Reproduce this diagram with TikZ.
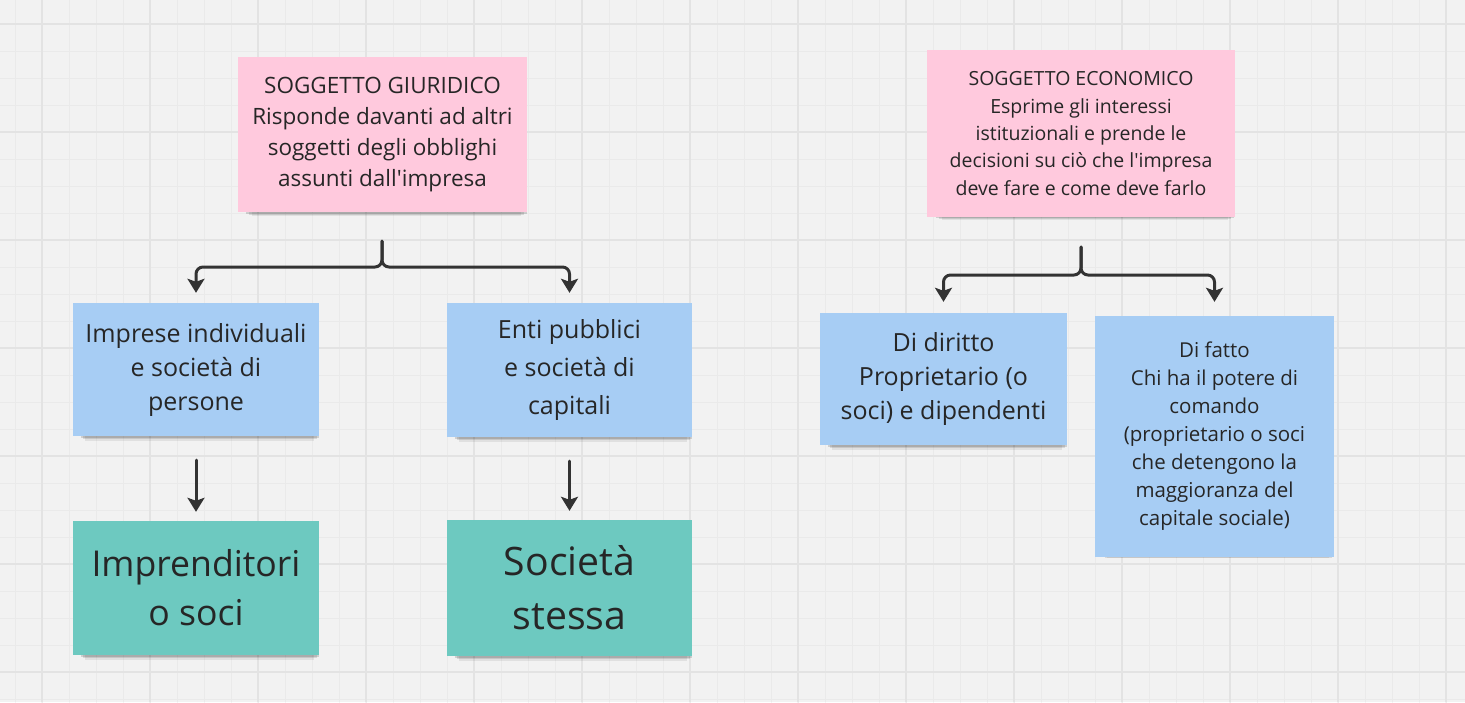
\documentclass[tikz,border=0pt]{standalone}
\usepackage{fontspec}
\setmainfont{Open Sans}
\usetikzlibrary{shadows,arrows.meta}
\definecolor{boardbg}{HTML}{F2F2F2}
\definecolor{gridminor}{HTML}{EAEAEA}
\definecolor{gridmajor}{HTML}{E3E3E3}
\definecolor{notepink}{HTML}{FFC9DD}
\definecolor{noteblue}{HTML}{A7CDF4}
\definecolor{noteteal}{HTML}{6DC9C0}
\definecolor{inkgray}{HTML}{333333}
\definecolor{txtgray}{HTML}{262626}
\begin{document}
\begin{tikzpicture}[x=1pt,y=-1pt,line join=round,line cap=round,>={Stealth[length=14pt,width=17pt,inset=3pt]}]
			\tikzset{note/.style={rectangle,inner sep=0pt,align=center,text=txtgray,
					drop shadow={shadow xshift=4pt,shadow yshift=-4pt,shadow scale=0.97,opacity=0.14,fill=black},
					drop shadow={shadow xshift=4pt,shadow yshift=-7pt,shadow scale=0.95,opacity=0.11,fill=black},
					drop shadow={shadow xshift=4pt,shadow yshift=-10pt,shadow scale=0.93,opacity=0.07,fill=black}},
				link/.style={->,line width=3pt,draw=inkgray}}
			\fill[boardbg] (0,0) rectangle (1465,702);
			\useasboundingbox (0,0) rectangle (1465,702);
			% griglia della lavagna
			\foreach \gx in {15,42,...,1465} \draw[gridminor,line width=1pt] (\gx,0) -- (\gx,702);
			\foreach \gy in {-3,24,...,702} \draw[gridminor,line width=1pt] (0,\gy) -- (1465,\gy);
			\foreach \gx in {42,150,...,1465} \draw[gridmajor,line width=1.2pt] (\gx,0) -- (\gx,702);
			\foreach \gy in {24,132,...,702} \draw[gridmajor,line width=1.2pt] (0,\gy) -- (1465,\gy);
			% soggetto giuridico
			\node[note,fill=notepink,minimum width=289pt,minimum height=155pt,font=\fontsize{22.5}{31}\selectfont] (giur) at (382.5,134.5)
				{SOGGETTO GIURIDICO\\Risponde davanti ad altri\\soggetti degli obblighi\\assunti dall\textquotesingle impresa};
			\node[note,fill=noteblue,minimum width=246pt,minimum height=133pt,font=\fontsize{25}{34}\selectfont] (imprese) at (196,369.5)
				{Imprese individuali\\e società di\\persone};
			\node[note,fill=noteblue,minimum width=245pt,minimum height=134pt,font=\fontsize{25}{38}\selectfont] (enti) at (569.5,370)
				{Enti pubblici\\e società di\\capitali};
			\node[note,fill=noteteal,minimum width=246pt,minimum height=134pt,font=\fontsize{35.6}{49}\selectfont] (impr) at (196,588)
				{Imprenditori\\o soci};
			\node[note,fill=noteteal,minimum width=245pt,minimum height=136pt,font=\fontsize{39.2}{54}\selectfont] (soc) at (569.5,588)
				{Società\\stessa};
			% soggetto economico
			\node[note,fill=notepink,minimum width=308pt,minimum height=167pt,font=\fontsize{19.5}{27.3}\selectfont] (econ) at (1081,133.5)
				{SOGGETTO ECONOMICO\\Esprime gli interessi\\istituzionali e prende le\\decisioni su ciò che l\textquotesingle impresa\\deve fare e come deve farlo};
			\node[note,fill=noteblue,minimum width=247pt,minimum height=132pt,font=\fontsize{25}{34}\selectfont] (diritto) at (943.5,379)
				{Di diritto\\Proprietario (o\\soci) e dipendenti};
			\node[note,fill=noteblue,minimum width=239pt,minimum height=241pt,font=\fontsize{20.5}{28}\selectfont] (fatto) at (1214.5,436.5)
				{Di fatto\\Chi ha il potere di\\comando\\(proprietario o soci\\che detengono la\\maggioranza del\\capitale sociale)};
			% connettori
			\coordinate (gstem) at (382,241);
			\coordinate (estem) at (1081,247);
			\draw[link,rounded corners=7pt,shorten >=10pt] (gstem) -- ++(0,26) -| (imprese);
			\draw[link,rounded corners=7pt,shorten >=10pt] (gstem) -- ++(0,26) -| (enti);
			\draw[link,rounded corners=7pt,shorten >=11pt] (estem) -- ++(0,28) -| (diritto);
			\draw[link,rounded corners=7pt,shorten >=14pt] (estem) -- ++(0,28) -| (fatto);
			\draw[link,shorten <=24pt,shorten >=9pt] (imprese) -- (impr);
			\draw[link,shorten <=24pt,shorten >=9pt] (enti) -- (soc);
		\end{tikzpicture}
\end{document}
